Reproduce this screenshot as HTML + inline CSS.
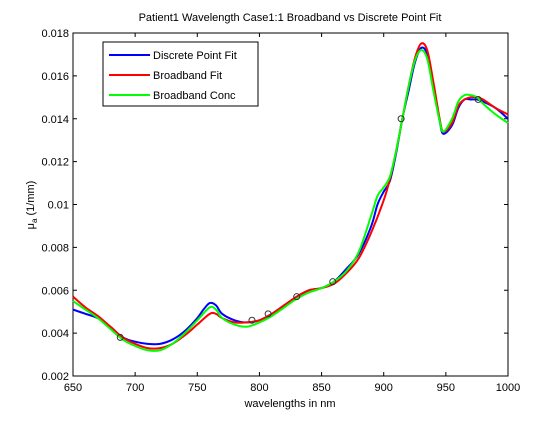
<!DOCTYPE html>
<html><head><meta charset="utf-8"><style>
body{margin:0;background:#fff;}
svg text{font-family:"Liberation Sans",sans-serif;font-size:11px;fill:#000;}
</style></head><body>
<svg id="chart" width="560" height="420">
<rect x="0" y="0" width="560" height="420" fill="#fff"/>
<text x="290" y="21" text-anchor="middle">Patient1 Wavelength Case1:1 Broadband vs Discrete Point Fit</text>
<rect x="73" y="33" width="435" height="343" fill="#fff" stroke="#000"/>
<g id="axes"></g>
<g id="series"></g>
<text x="290" y="407" text-anchor="middle">wavelengths in nm</text>
<text transform="translate(34,205) rotate(-90)" text-anchor="middle">μ<tspan font-size="8" dy="3">a</tspan><tspan dy="-3"> (1/mm)</tspan></text>
<g>
<rect x="103" y="42" width="155" height="64" fill="#fff" stroke="#000"/>
<line x1="109" y1="55" x2="150" y2="55" stroke="#0000ff" stroke-width="2"/><text x="153" y="59">Discrete Point Fit</text>
<line x1="109" y1="75" x2="150" y2="75" stroke="#ff0000" stroke-width="2"/><text x="153" y="79">Broadband Fit</text>
<line x1="109" y1="95" x2="150" y2="95" stroke="#00ff00" stroke-width="2"/><text x="153" y="99">Broadband Conc</text>
</g>
</svg>
<script>
const xTicks=[650,700,750,800,850,900,950,1000];
const yTicks=[0.002,0.004,0.006,0.008,0.01,0.012,0.014,0.016,0.018];
const yTickLabels=["0.002","0.004","0.006","0.008","0.01","0.012","0.014","0.016","0.018"];
const wlBlue=[650,660,670,680,690,700,710,720,730,740,750,755,760,765,770,780,790,800,810,820,830,840,850,860,870,880,890,895,900,905,910,915,920,925,930,935,940,945,948,955,960,965,970,975,980,990,1000];
const blue=[0.0051,0.0049,0.0047,0.0043,0.0038,0.0036,0.0035,0.0035,0.0037,0.0041,0.0047,0.0051,0.0054,0.0053,0.0049,0.0046,0.0045,0.0046,0.0049,0.0053,0.0057,0.0060,0.0061,0.0064,0.0070,0.0077,0.0090,0.0100,0.0106,0.0111,0.0124,0.0140,0.0153,0.0166,0.0173,0.0170,0.0155,0.0139,0.0133,0.0137,0.0145,0.0149,0.0149,0.0149,0.0148,0.0145,0.0140];
const wlRed=[650,660,670,680,690,700,710,720,730,740,750,760,765,770,780,790,800,810,820,830,840,850,860,870,880,890,900,905,910,915,920,925,930,935,940,945,948,955,960,965,970,975,980,990,1000];
const red=[0.0057,0.0052,0.0048,0.0043,0.0038,0.0035,0.0033,0.0033,0.0035,0.0039,0.0044,0.0049,0.0049,0.0047,0.0045,0.0045,0.0046,0.0049,0.0053,0.0057,0.0060,0.0061,0.0063,0.0068,0.0075,0.0087,0.0102,0.0112,0.0125,0.0140,0.0155,0.0168,0.0175,0.0172,0.0157,0.0140,0.0134,0.0138,0.0146,0.0149,0.0150,0.0150,0.0149,0.0145,0.0142];
const wlGreen=[650,660,670,680,690,700,710,720,730,740,750,760,765,770,780,790,800,810,820,830,840,850,860,870,880,890,895,900,905,910,915,920,925,930,935,940,945,948,955,960,965,970,975,980,990,1000];
const green=[0.0055,0.0051,0.0047,0.0042,0.0037,0.0034,0.0032,0.0032,0.0035,0.0040,0.0046,0.0052,0.0051,0.0047,0.0044,0.0043,0.0045,0.0048,0.0052,0.0056,0.0059,0.0061,0.0064,0.0069,0.0078,0.0095,0.0104,0.0108,0.0113,0.0125,0.0140,0.0155,0.0167,0.0172,0.0168,0.0153,0.0139,0.0134,0.0140,0.0148,0.0151,0.0151,0.0150,0.0147,0.0142,0.0138];
const markerWl=[688,794,807,830,859,914,976];
const markerVal=[0.0038,0.0046,0.0049,0.0057,0.0064,0.0140,0.0149];

const NS="http://www.w3.org/2000/svg";
function xs(v){return 73+(v-650)/350*435;}
function ys(v){return 376-(v-0.002)/0.016*343;}
const axes=document.getElementById('axes'), ser=document.getElementById('series');
function mk(tag,attrs,parent){const e=document.createElementNS(NS,tag);for(const k in attrs)e.setAttribute(k,attrs[k]);parent.appendChild(e);return e;}
xTicks.forEach(t=>{
  const x=xs(t);
  const l=mk('line',{x1:x,x2:x,y1:376,y2:372,stroke:'#000'},axes);
  
  
  mk('line',{x1:x,x2:x,y1:33,y2:37,stroke:'#000'},axes);
  const tx=mk('text',{x:x,y:391,'text-anchor':'middle'},axes);tx.textContent=t;
  
  
});
yTicks.forEach((t,i)=>{
  const y=ys(t);
  const l=mk('line',{x1:73,x2:77,y1:y,y2:y,stroke:'#000'},axes);
  
  
  mk('line',{x1:504,x2:508,y1:y,y2:y,stroke:'#000'},axes);
  const tx=mk('text',{x:69,y:y+4,'text-anchor':'end'},axes);tx.textContent=yTickLabels[i];
  
  
});
function line(wl,vals,color,name){
  const pts=wl.map((w,i)=>[xs(w),ys(vals[i])]);
  let d='M'+pts[0][0]+','+pts[0][1];
  for(let i=0;i<pts.length-1;i++){
    const p0=pts[Math.max(0,i-1)],p1=pts[i],p2=pts[i+1],p3=pts[Math.min(pts.length-1,i+2)];
    const c1=[p1[0]+(p2[0]-p0[0])/6,p1[1]+(p2[1]-p0[1])/6];
    const c2=[p2[0]-(p3[0]-p1[0])/6,p2[1]-(p3[1]-p1[1])/6];
    d+=' C'+c1[0]+','+c1[1]+' '+c2[0]+','+c2[1]+' '+p2[0]+','+p2[1];
  }
  const p=mk('path',{d:d,fill:'none',stroke:color,'stroke-width':2,'stroke-linejoin':'round'},ser);
  
  
}
line(wlBlue,blue,'#0000ff','discrete-point-fit-line');
line(wlRed,red,'#ff0000','broadband-fit-line');
line(wlGreen,green,'#00ff00','broadband-conc-line');
markerWl.forEach((w,i)=>{
  const c=mk('circle',{cx:xs(w),cy:ys(markerVal[i]),r:3,fill:'none',stroke:'#333','stroke-width':1},ser);
  
  
});
</script>
</body></html>
